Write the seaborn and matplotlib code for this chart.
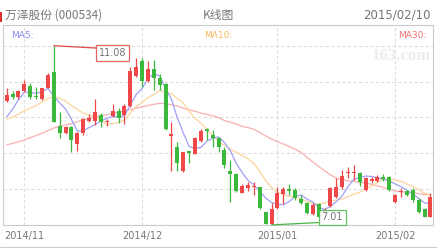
import numpy as np
import pandas as pd
import seaborn as sns
import matplotlib.pyplot as plt
from matplotlib.patches import Rectangle
from matplotlib.lines import Line2D

# ---------------- data ----------------
title = "万泽股份 (000534)"
chart_name = "K线图"
date_label = "2015/02/10"
month_ticks = [3, 23, 46, 66]
month_labels = ["2014/11", "2014/12", "2015/01", "2015/02"]

opens = [9.83, 9.98, 9.91, 10.04, 10.16, 9.94, 9.87, 10.13, 10.48, 9.26,
         9.10, 9.23, 8.84, 9.09, 9.37, 9.38, 9.51, 9.34, 9.48, 9.60,
         9.51, 9.71, 10.39, 10.73, 10.28, 10.54, 10.35, 10.20, 9.04, 8.77,
         8.24, 8.68, 8.62, 8.92, 9.18, 9.05, 8.98, 8.71, 8.24, 8.16,
         7.74, 7.84, 7.86, 7.87, 7.30, 7.02, 7.39, 7.71, 7.83, 7.80,
         7.59, 7.50, 7.26, 7.48, 7.30, 7.44, 7.65, 7.86, 8.18, 8.18,
         8.18, 7.80, 8.01, 8.01, 8.10, 8.10, 7.52, 7.75, 7.77, 7.80,
         7.58, 7.37, 7.20]
highs = [10.11, 10.06, 10.07, 10.30, 10.23, 10.15, 10.13, 10.45, 11.08, 9.57,
         9.26, 9.26, 9.11, 9.43, 9.53, 9.87, 9.55, 9.41, 9.76, 9.66,
         9.76, 10.59, 10.79, 10.79, 10.73, 10.76, 10.43, 10.23, 9.35, 8.90,
         8.67, 8.69, 9.00, 9.19, 9.20, 9.17, 8.99, 8.79, 8.49, 8.18,
         7.93, 7.98, 7.99, 7.88, 7.31, 7.50, 7.88, 7.88, 7.93, 7.84,
         7.69, 7.52, 7.50, 7.50, 7.40, 7.87, 8.08, 8.26, 8.33, 8.37,
         8.22, 8.10, 8.10, 8.14, 8.17, 8.13, 7.71, 7.84, 7.80, 7.84,
         7.62, 7.40, 7.73]
lows = [9.81, 9.87, 9.87, 10.03, 9.87, 9.87, 9.85, 10.11, 9.34, 8.98,
        9.08, 8.67, 8.69, 9.05, 9.34, 9.28, 9.24, 9.26, 9.47, 9.32,
        9.30, 9.69, 10.38, 10.15, 10.26, 10.07, 10.07, 9.17, 8.24, 8.24,
        8.22, 8.41, 8.61, 8.90, 8.94, 8.77, 8.67, 8.30, 7.54, 7.76,
        7.73, 7.79, 7.69, 7.37, 7.02, 7.01, 7.37, 7.49, 7.69, 7.58,
        7.49, 7.26, 7.24, 7.19, 7.28, 7.42, 7.62, 7.83, 8.07, 8.03,
        7.89, 7.78, 7.96, 7.99, 8.01, 7.78, 7.51, 7.65, 7.67, 7.54,
        7.28, 7.19, 7.19]
closes = [9.96, 9.92, 10.04, 10.20, 9.91, 9.91, 10.11, 10.41, 9.35, 9.10,
          9.23, 8.94, 9.09, 9.41, 9.43, 9.58, 9.35, 9.38, 9.60, 9.43,
          9.71, 10.51, 10.60, 10.28, 10.54, 10.34, 10.19, 9.18, 9.07, 8.41,
          8.66, 8.64, 8.98, 9.14, 9.14, 8.98, 8.79, 8.37, 8.16, 7.77,
          7.89, 7.92, 7.88, 7.40, 7.03, 7.37, 7.73, 7.82, 7.77, 7.62,
          7.50, 7.28, 7.46, 7.20, 7.35, 7.84, 7.87, 8.11, 8.22, 8.22,
          7.98, 8.07, 8.05, 8.10, 8.05, 7.80, 7.69, 7.78, 7.69, 7.58,
          7.31, 7.20, 7.65]
ma5 = [9.46, 9.64, 9.85, 10.03, 10.01, 10.00, 10.03, 10.11, 9.94, 9.78,
       9.64, 9.41, 9.14, 9.15, 9.22, 9.29, 9.37, 9.43, 9.47, 9.47,
       9.49, 9.73, 9.97, 10.11, 10.33, 10.45, 10.39, 10.11, 9.86, 9.44,
       9.10, 8.79, 8.75, 8.77, 8.91, 8.98, 9.01, 8.88, 8.69, 8.41,
       8.20, 8.02, 7.92, 7.77, 7.62, 7.52, 7.48, 7.47, 7.54, 7.66,
       7.69, 7.60, 7.53, 7.41, 7.36, 7.43, 7.54, 7.67, 7.88, 8.05,
       8.08, 8.12, 8.11, 8.08, 8.05, 8.01, 7.94, 7.88, 7.80, 7.71,
       7.61, 7.51, 7.49]
ma10 = [9.41, 9.46, 9.53, 9.60, 9.66, 9.72, 9.80, 9.88, 9.92, 9.89,
        9.82, 9.72, 9.63, 9.55, 9.50, 9.47, 9.39, 9.29, 9.31, 9.34,
        9.39, 9.55, 9.70, 9.79, 9.90, 9.97, 10.06, 10.04, 9.99, 9.88,
        9.78, 9.59, 9.43, 9.32, 9.18, 9.04, 8.90, 8.82, 8.73, 8.66,
        8.59, 8.51, 8.40, 8.23, 8.02, 7.86, 7.75, 7.70, 7.66, 7.64,
        7.60, 7.54, 7.50, 7.48, 7.51, 7.56, 7.57, 7.60, 7.65, 7.71,
        7.75, 7.83, 7.89, 7.98, 8.05, 8.05, 8.03, 8.00, 7.94, 7.88,
        7.81, 7.73, 7.69]
ma30 = [8.83, 8.86, 8.90, 8.94, 8.99, 9.04, 9.09, 9.15, 9.21, 9.25,
        9.28, 9.31, 9.35, 9.40, 9.43, 9.46, 9.49, 9.51, 9.54, 9.57,
        9.60, 9.63, 9.66, 9.69, 9.72, 9.75, 9.77, 9.76, 9.74, 9.71,
        9.66, 9.62, 9.59, 9.55, 9.52, 9.49, 9.45, 9.38, 9.34, 9.30,
        9.25, 9.22, 9.18, 9.11, 9.03, 8.96, 8.90, 8.85, 8.79, 8.73,
        8.66, 8.55, 8.44, 8.34, 8.24, 8.15, 8.07, 8.04, 8.01, 8.00,
        7.98, 7.96, 7.93, 7.90, 7.86, 7.82, 7.78, 7.76, 7.75, 7.74,
        7.72, 7.70, 7.69]

# ---------------- style ----------------
sns.set_theme(style="white")
plt.rcParams['font.family'] = ['Noto Sans CJK SC', 'DejaVu Sans']

RED = "#f04848"
GREEN = "#3cb83c"
C_MA5 = "#a0a0f8"
C_MA10 = "#fcd49a"
C_MA30 = "#f8b0b0"
GRID = "#dedede"
BORDER = "#cccccc"
TXT = "#777777"

W, H = 437, 248
fig = plt.figure(figsize=(W / 100, H / 100), dpi=100)
fig.patch.set_facecolor("white")
ax = fig.add_axes([3 / W, 23 / H, 429.5 / W, 200 / H])

df = pd.DataFrame({"open": opens, "high": highs, "low": lows, "close": closes,
                   "ma5": ma5, "ma10": ma10, "ma30": ma30})
df["idx"] = np.arange(len(df))
up = df["close"] >= df["open"]
colors = np.where(up, RED, GREEN)

# moving averages
for col, c in (("ma30", C_MA30), ("ma10", C_MA10), ("ma5", C_MA5)):
    sns.lineplot(data=df, x="idx", y=col, ax=ax, color=c, linewidth=0.9,
                 legend=False, zorder=2)

# candles
ax.vlines(df["idx"], df["low"], df["high"], colors=colors, linewidth=0.9, zorder=3)
bottoms = np.minimum(df["open"], df["close"])
heights = np.maximum((df["close"] - df["open"]).abs(), 0.025)
ax.bar(df["idx"], heights, bottom=bottoms, width=0.68, color=colors,
       linewidth=0, zorder=4)

# scales
lo, hi = df["low"].min(), df["high"].max()
span = hi - lo
ax.set_ylim(lo - 0.002, hi + span * 20.7 / 179.3)
ax.set_xlim(-0.63, 72.35)
ax.set_yticks(np.linspace(lo, hi, 6))
ax.set_yticklabels([])
ax.set_xticks(month_ticks)
ax.set_xticklabels(month_labels, fontsize=7, color=TXT, family=['DejaVu Sans'])
ax.tick_params(axis='x', length=0, pad=4)
ax.tick_params(axis='y', length=0)
ax.set_xlabel("")
ax.set_ylabel("")
ax.grid(True, color=GRID, linestyle=(0, (3, 2)), linewidth=0.8)
ax.set_axisbelow(True)
for s in ax.spines.values():
    s.set_color(BORDER)
    s.set_linewidth(0.8)

# max / min annotations
imax = int(df["high"].idxmax())
imin = int(df["low"].idxmin())
ax.annotate(f"{hi:.2f}", xy=(imax, hi), xytext=(45, -2.5), textcoords="offset pixels",
            ha="left", va="top", fontsize=7, color=TXT, family=['DejaVu Sans'],
            bbox=dict(boxstyle="square,pad=0.28", fc="white", ec="#e04848", lw=0.9, alpha=0.85),
            arrowprops=dict(arrowstyle="-", color="#e04848", lw=0.9, shrinkA=0, shrinkB=0,
                            relpos=(0, 1)),
            zorder=6)
ax.annotate(f"{lo:.2f}", xy=(imin, lo), xytext=(50, 2.5), textcoords="offset pixels",
            ha="left", va="bottom", fontsize=7, color=TXT, family=['DejaVu Sans'],
            bbox=dict(boxstyle="square,pad=0.28", fc="white", ec="#48b848", lw=0.9, alpha=0.85),
            arrowprops=dict(arrowstyle="-", color="#48b848", lw=0.9, shrinkA=0, shrinkB=0,
                            relpos=(0, 0)),
            zorder=6)

# MA labels inside the plot
fig.text(11 / W, 1 - 35 / H, "MA5:", fontsize=6.5, color="#8a8af0", va="center",
         family=['DejaVu Sans'])
fig.text(204 / W, 1 - 35 / H, "MA10:", fontsize=6.5, color="#f8b860", va="center",
         family=['DejaVu Sans'])
fig.text(426 / W, 1 - 35 / H, "MA30:", fontsize=6.5, color="#f07070", va="center",
         ha="right", family=['DejaVu Sans'])

# watermark
fig.text(431 / W, 1 - 56 / H, "163.com", fontsize=12, color="#ececec", va="center",
         ha="right", family=['Liberation Serif'], fontweight="bold")

# header
fig.text(5 / W, 1 - 15 / H, title, fontsize=8.5, color=TXT, va="center")
fig.text(218.5 / W, 1 - 15 / H, chart_name, fontsize=8.5, color=TXT, va="center", ha="center")
fig.text(431 / W, 1 - 15 / H, date_label, fontsize=8.5, color=TXT, va="center", ha="right",
         family=['DejaVu Sans'])
fig.add_artist(Rectangle((0, 1 - 22 / H), 2 / W, 10 / H, transform=fig.transFigure,
                         color="#e03030", lw=0))
fig.add_artist(Line2D([0, 1], [1 - 247.3 / H] * 2, transform=fig.transFigure,
                      color=BORDER, lw=0.8))

fig.savefig("out.png", dpi=100, facecolor="white")
